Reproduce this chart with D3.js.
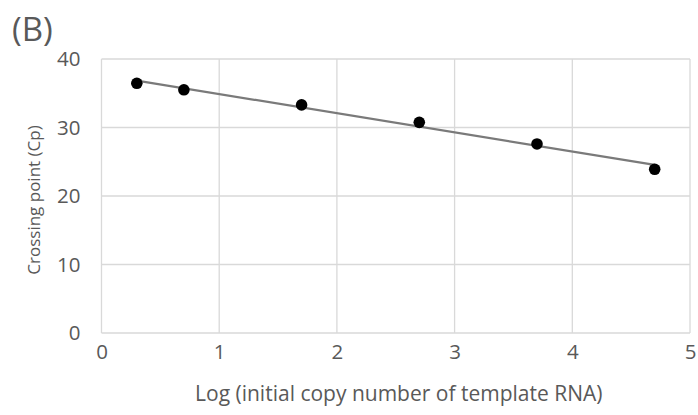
<!DOCTYPE html>
<html>
<head>
<meta charset="utf-8">
<script src="https://cdn.jsdelivr.net/npm/d3@7"></script>
<style>
  html, body { margin: 0; padding: 0; background: #fff; }
  svg text { font-family: "Open Sans", Lato, sans-serif; fill: #595959; }
</style>
</head>
<body>
<svg id="chart" width="698" height="415"></svg>
<script>
// Standard curve: log copy number vs crossing point
const logCopies = [0.3, 0.7, 1.7, 2.7, 3.7, 4.7];
const crossingPoints = [36.45, 35.5, 33.3, 30.75, 27.6, 23.9];
const xTicks = [0, 1, 2, 3, 4, 5];
const yTicks = [0, 10, 20, 30, 40];

const svg = d3.select("#chart");
const margin = { left: 101.5, right: 8, top: 59, bottom: 82 };
const W = 698, H = 415;

const x = d3.scaleLinear().domain([0, 5]).range([margin.left, W - margin.right]);
const y = d3.scaleLinear().domain([0, 40]).range([H - margin.bottom, margin.top]);

// gridlines
const grid = svg.append("g");
grid.selectAll("line.v").data(xTicks).join("line")
  .attr("x1", d => x(d)).attr("x2", d => x(d))
  .attr("y1", y(0)).attr("y2", y(40))
  .attr("stroke", "#d9d9d9").attr("stroke-width", 1.3);
grid.selectAll("line.h").data(yTicks).join("line")
  .attr("x1", x(0)).attr("x2", x(5))
  .attr("y1", d => y(d)).attr("y2", d => y(d))
  .attr("stroke", "#d9d9d9").attr("stroke-width", 1.3);

// axes (labels only)
const xAxis = svg.append("g").attr("transform", `translate(0,${y(0)})`)
  .call(d3.axisBottom(x).tickValues(xTicks).tickSize(0).tickPadding(11).tickFormat(d3.format("d")));
xAxis.select(".domain").remove();
xAxis.selectAll("text").attr("font-size", 20.5).style("fill", "#595959");

const yAxis = svg.append("g").attr("transform", `translate(${x(0)},0)`)
  .call(d3.axisLeft(y).tickValues(yTicks).tickSize(0).tickPadding(21).tickFormat(d3.format("d")));
yAxis.select(".domain").remove();
yAxis.selectAll("text").attr("font-size", 20.5).style("fill", "#595959");

// linear trendline (least squares)
const n = logCopies.length;
const mx = d3.mean(logCopies), my = d3.mean(crossingPoints);
let sxy = 0, sxx = 0;
for (let i = 0; i < n; i++) {
  sxy += (logCopies[i] - mx) * (crossingPoints[i] - my);
  sxx += (logCopies[i] - mx) ** 2;
}
const slope = sxy / sxx, intercept = my - slope * mx;
const x0 = d3.min(logCopies), x1 = d3.max(logCopies);
svg.append("line")
  .attr("x1", x(x0)).attr("y1", y(intercept + slope * x0))
  .attr("x2", x(x1)).attr("y2", y(intercept + slope * x1))
  .attr("stroke", "#7a7a7a").attr("stroke-width", 2.2);

// points
svg.selectAll("circle.pt").data(logCopies).join("circle")
  .attr("cx", d => x(d))
  .attr("cy", (d, i) => y(crossingPoints[i]))
  .attr("r", 5.8)
  .attr("fill", "#000");

// titles
svg.append("text").attr("x", x(2.5) + 3).attr("y", 401)
  .attr("text-anchor", "middle").attr("font-size", 21)
  .text("Log (initial copy number of template RNA)");
svg.append("text")
  .attr("transform", `translate(40,${y(20) + 4}) rotate(-90)`)
  .attr("text-anchor", "middle").attr("font-size", 17)
  .text("Crossing point (Cp)");
svg.append("text").attr("x", 12).attr("y", 41)
  .attr("font-size", 33)
  .text("(B)");
</script>
</body>
</html>
